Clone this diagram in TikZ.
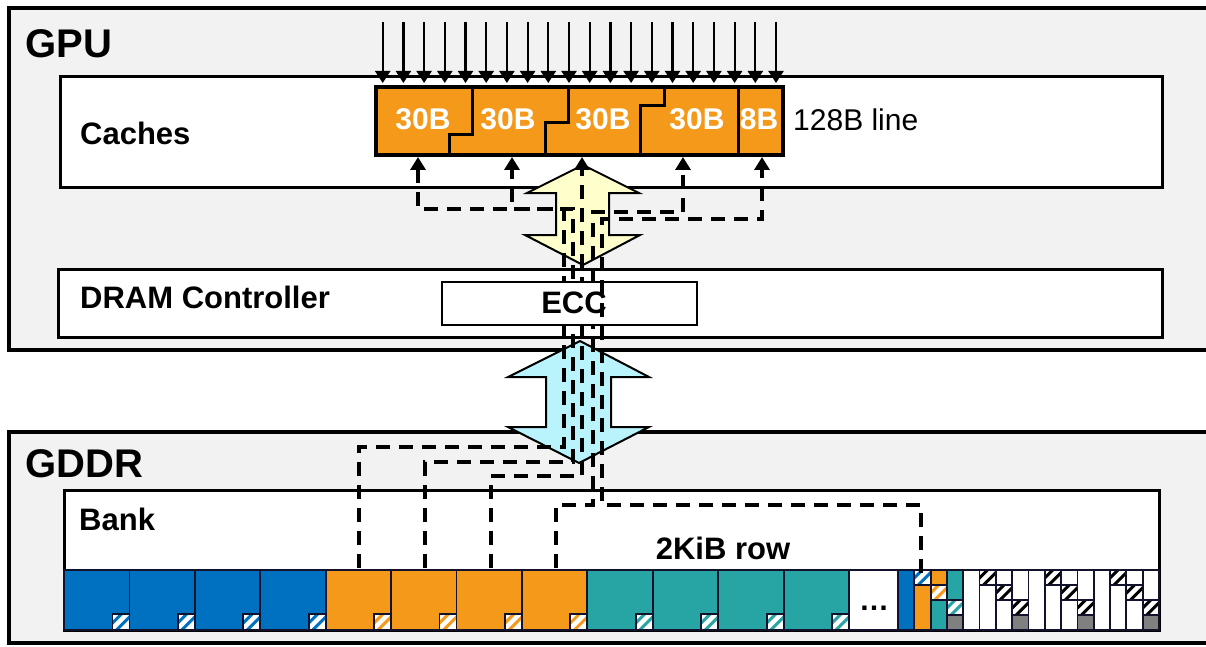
\documentclass[tikz,border=0pt]{standalone}
\usepackage{fontspec}
\setmainfont{Liberation Sans}
\usetikzlibrary{arrows.meta}
\definecolor{gbg}{HTML}{F2F2F2}
\definecolor{cblue}{HTML}{0070C0}
\definecolor{corange}{HTML}{F4991A}
\definecolor{cteal}{HTML}{27A5A5}
\definecolor{cgray}{HTML}{808080}
\definecolor{navy}{HTML}{12122C}
\definecolor{ylw}{HTML}{FFFFCC}
\definecolor{cyanl}{HTML}{B9F3FB}
\tikzset{
 outerbox/.style={draw=black, line width=4.5pt, fill=gbg},
 innerbox/.style={draw=black, line width=3pt, fill=white},
 lbl/.style={font=\fontsize{31pt}{31pt}\selectfont\bfseries, anchor=base west, inner sep=0pt},
 biglbl/.style={font=\fontsize{40pt}{40pt}\selectfont\bfseries, anchor=base west, inner sep=0pt},
 blk/.style={font=\fontsize{30pt}{30pt}\selectfont\bfseries, text=white, anchor=base, inner sep=0pt},
 dpath/.style={line width=3.4pt, dash pattern=on 14pt off 9pt},
 uparr/.style={dpath, -{Triangle[width=15pt,length=13pt]}},
 downarr/.style={line width=2.2pt, -{Triangle[width=15pt,length=12pt]}},
 fatarr/.style={draw=black, line width=2pt, line join=miter},
 cell/.style={draw=navy, line width=1.8pt},
}
\newcommand\hsq[5]{%
 \begin{scope}
 \clip ({#1},{#2}) rectangle ({#3},{#4});
 \fill[white] ({#1},{#2}) rectangle ({#3},{#4});
 \foreach \hh in {-7,4} {\draw[#5,line width=3pt] ({#1+\hh-4},{#4+4}) -- ({#1+\hh+24},{#4-24});}
 \end{scope}
 \draw[cell] ({#1},{#2}) rectangle ({#3},{#4});
}
\newcommand\dseg[4]{\path[fill=#4,cell] ({898+(#1)*16.3125},{570+(#2)*15}) rectangle ({898+((#1)+1)*16.3125},{570+(#3)*15});}
\newcommand\dhat[3]{\hsq{898+(#1)*16.3125}{570+(#2)*15}{898+((#1)+1)*16.3125}{570+((#2)+1)*15}{#3}}
\begin{document}
\begin{tikzpicture}[x=1pt,y=-1pt]
\clip (0,0) rectangle (1206,647);
\useasboundingbox (0,0) rectangle (1206,647);
% GPU
\draw[outerbox] (9,8) rectangle (1222,350);
\node[biglbl] (gpu) at (25,58) {GPU};
\draw[innerbox] (60,77) rectangle (1162,187);
\node[lbl] (caches) at (80,145) {Caches};
\draw[innerbox] (58,269) rectangle (1162,337);
\node[lbl] (dram) at (80,308) {DRAM Controller};
% GDDR
\draw[outerbox] (9,432) rectangle (1222,643);
\node[biglbl] (gddr) at (25,477) {GDDR};
\draw[innerbox] (64,490) rectangle (1159,630);
\node[lbl] (bank) at (79,530) {Bank};
\node[lbl, anchor=base] (row) at (723,559) {2KiB row};
% bank row cells
\foreach \c [count=\g from 0] in {cblue,corange,cteal} {
  \foreach \k in {0,...,3} {
    \pgfmathsetmacro\xa{64+(\g*4+\k)*65.42}
    \pgfmathsetmacro\xb{\xa+65.42}
    \fill[\c] (\xa,570) rectangle (\xb,630);
    \hsq{\xb-17}{614}{\xb}{630}{\c}
    \draw[cell] (\xa,570) rectangle (\xb,630);
  }
}
\draw[cell, fill=white] (849,570) rectangle (898,630);
\node[font=\fontsize{30pt}{30pt}\selectfont\bfseries, anchor=base, inner sep=0pt] (dots) at (874,610) {…};
% dense region
\dseg{0}{0}{4}{cblue}
\dhat{1}{0}{cblue}\dseg{1}{1}{4}{corange}
\dseg{2}{0}{1}{corange}\dhat{2}{1}{corange}\dseg{2}{2}{4}{cteal}
\dseg{3}{0}{2}{cteal}\dhat{3}{2}{cteal}\dseg{3}{3}{4}{cgray}
\foreach \c in {4,8,12} {
  \dseg{\c}{0}{4}{white}
  \dhat{\c+1}{0}{black}\dseg{\c+1}{1}{4}{white}
  \dseg{\c+2}{0}{1}{white}\dhat{\c+2}{1}{black}\dseg{\c+2}{2}{4}{white}
  \dseg{\c+3}{0}{2}{white}\dhat{\c+3}{2}{black}\dseg{\c+3}{3}{4}{cgray}
}
\draw[navy, line width=2.5pt] (64,570) rectangle (1159,630);
% cache line blocks
\fill[corange] (376,87) rectangle (783,155);
\draw[line width=3pt] (472,87) |- (449,135) -- (449,155);
\draw[line width=3pt] (568,87) |- (545,123) -- (545,155);
\draw[line width=3pt] (664,87) |- (640,106) -- (640,155);
\draw[line width=3pt] (738,87) -- (738,155);
\draw[line width=3.8pt] (376,87) rectangle (783,155);
\node[blk] (blk1) at (423,130) {30B};
\node[blk] (blk2) at (508,130) {30B};
\node[blk] (blk3) at (603,130) {30B};
\node[blk] (blk4) at (697,130) {30B};
\node[blk] (blk5) at (759,130) {8B};
\node[font=\fontsize{30pt}{30pt}\selectfont, anchor=base west, inner sep=0pt] (linelbl) at (793,131) {128B line};
% incoming arrows
\foreach \i in {0,...,19} {
  \pgfmathsetmacro\xx{382.7+\i*20.7}
  \coordinate (s\i) at (\xx,22);
  \coordinate (e\i) at (\xx,83);
  \draw[downarr] (s\i) -- (e\i);
}
% fat arrows
\draw[fatarr, fill=ylw] (583,165) -- (639,193) -- (609,193) -- (609,235) -- (640,235) -- (583,265) -- (525,235) -- (556,235) -- (556,193) -- (527,193) -- cycle;
\draw[fatarr, fill=cyanl] (580,341) -- (649,377) -- (611,377) -- (611,427) -- (649,427) -- (579,463) -- (508,427) -- (546,427) -- (546,377) -- (508,377) -- cycle;
% connector endpoints
\coordinate (t1) at (418,157);
\coordinate (t2) at (512,157);
\coordinate (t3) at (582,157);
\coordinate (t4) at (683,157);
\coordinate (t5) at (762,157);
\coordinate (m1) at (359,568);
\coordinate (m2) at (425,568);
\coordinate (m3) at (491,568);
\coordinate (m4) at (556,568);
\coordinate (m5) at (921,573);
% dashed data paths
\draw[uparr] (m1) -- (359,447) -- (564,447) -- (564,209) -- (418,209) -- (t1);
\draw[uparr] (m2) -- (425,462) -- (573,462) -- (573,209) -- (512,209) -- (t2);
\draw[uparr] (m3) -- (491,476) -- (582,476) -- (t3);
\draw[uparr] (m4) -- (556,505) -- (593,505) -- (593,212) -- (683,212) -- (t4);
% ECC
\draw[line width=2.5pt, fill=white] (442,282) rectangle (697,325);
\node[lbl, anchor=base] (ecc) at (574,313) {ECC};
\draw[uparr] (m5) -- (921,505) -- (602,505) -- (602,219) -- (762,219) -- (t5);
\end{tikzpicture}
\end{document}
